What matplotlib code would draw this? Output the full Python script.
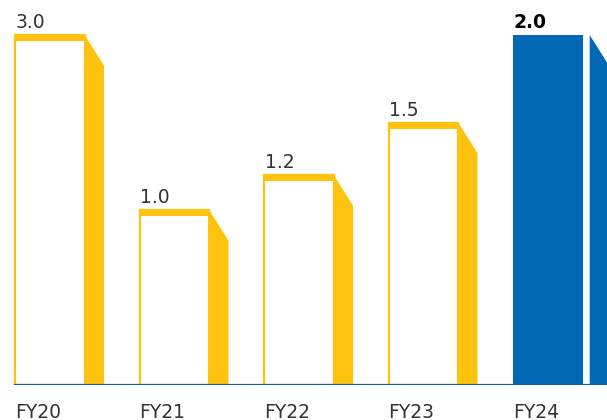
import numpy as np
import matplotlib.pyplot as plt
from matplotlib.patches import Polygon

years = ['FY20', 'FY21', 'FY22', 'FY23', 'FY24']
values = [3.0, 1.0, 1.2, 1.5, 2.0]
cap = 2.0  # the FY20 bar is drawn cut off at the same height as FY24

yellow = '#FFC20E'
blue = '#0068B5'
grey = '#333333'

plt.rcParams['font.family'] = ['DejaVu Sans']

fig = plt.figure(figsize=(6.07, 4.20), dpi=100)
ax = fig.add_axes([0, 35 / 420, 1, 385 / 420])
ax.set_xlim(-0.1205, 4.755)
ax.set_ylim(0, 2.2)
ax.axis('off')

front_w = 0.56
side_w = 0.155
drop = 0.175
band = 0.036
gap = 0.056

for i, (year, v) in enumerate(zip(years, values)):
    h = min(v, cap)
    last = i == len(years) - 1
    if last:
        ax.bar(i, h, width=front_w, align='edge', color=blue, linewidth=0)
        x0 = i + front_w + gap
        col = blue
    else:
        ax.bar(i, h, width=front_w, align='edge', color='white',
               edgecolor=yellow, linewidth=1.6)
        ax.bar(i, band, bottom=h - band, width=front_w, align='edge',
               color=yellow, linewidth=0)
        x0 = i + front_w
        col = yellow
    side = Polygon([(x0, h), (x0 + side_w, h - drop), (x0 + side_w, 0), (x0, 0)],
                   closed=True, facecolor=col, edgecolor='none')
    ax.add_patch(side)
    ax.text(i + 0.005, h + 0.04, f'{v:.1f}', ha='left', va='baseline',
            fontsize=13.5, color='black' if last else grey,
            fontweight='bold' if last else 'normal')
    ax.text(i, -0.19, year, ha='left', va='baseline', fontsize=13.5,
            color=grey, clip_on=False)

ax.axhline(0, xmin=15 / 607, xmax=1, color=blue, linewidth=1.6)

fig.savefig('out.png', dpi=100)
